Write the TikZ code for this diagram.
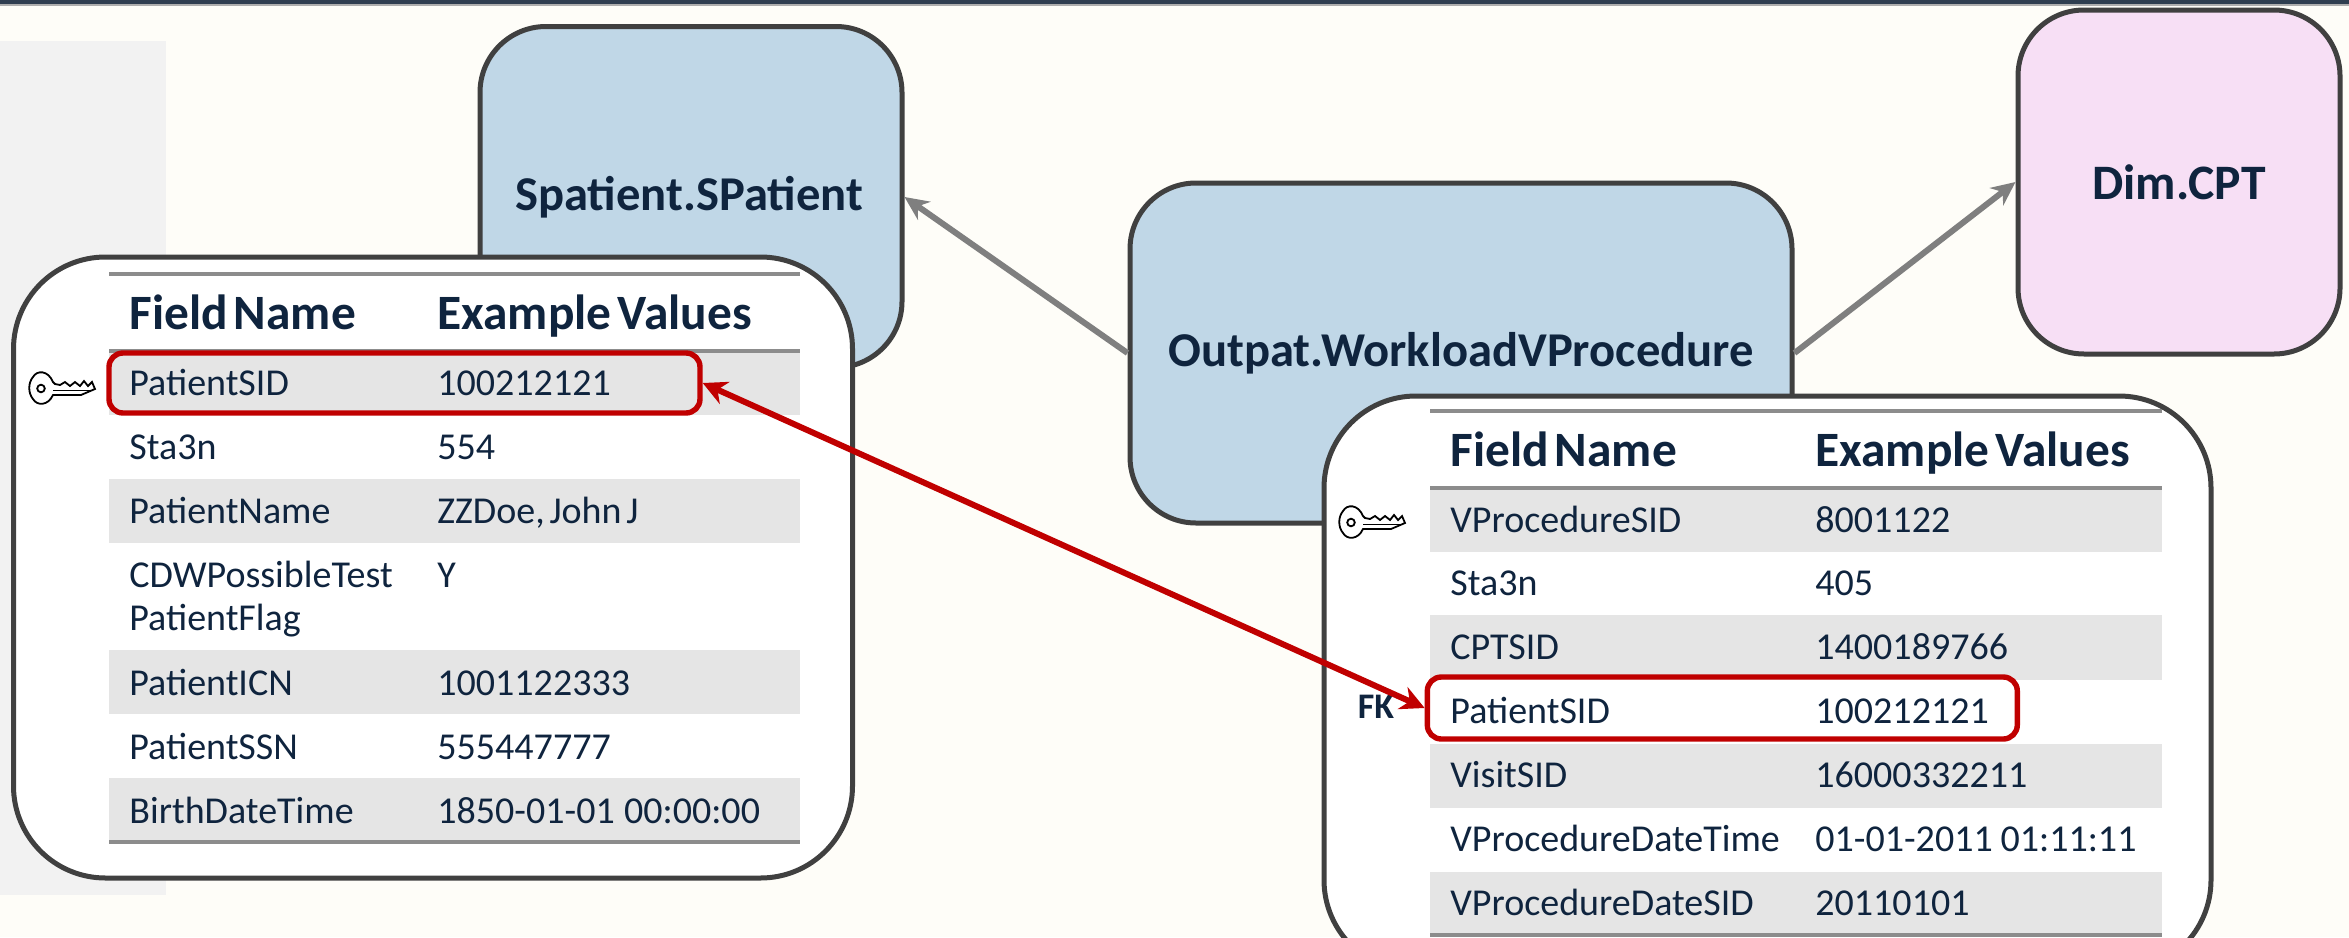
\documentclass[tikz,border=0pt]{standalone}
\usepackage{fontspec}
\setmainfont[WordSpace=0.55]{Carlito}
\usetikzlibrary{arrows.meta}
\definecolor{pagebg}{HTML}{FEFDF8}
\definecolor{topbar}{HTML}{2F3E50}
\definecolor{sidepanel}{HTML}{F2F2F2}
\definecolor{boxblue}{HTML}{C0D7E7}
\definecolor{boxpink}{HTML}{F7DFF5}
\definecolor{boxedge}{HTML}{404040}
\definecolor{ink}{HTML}{0F243E}
\definecolor{rowgrey}{HTML}{E5E5E5}
\definecolor{ruleg}{HTML}{8C8C8C}
\definecolor{linkg}{HTML}{7F7F7F}
\definecolor{linkr}{HTML}{C00000}
\tikzset{
  x=0.5pt,y=-0.5pt,
  entity/.style={draw=boxedge,line width=2.5pt,rounded corners=33pt,inner sep=0pt,text=ink,
    font=\fontsize{24.3}{30}\selectfont\bfseries},
  card/.style={draw=boxedge,line width=2.5pt,fill=white,rounded corners=46pt,inner sep=0pt},
  shade/.style={fill=rowgrey,draw=none,inner sep=0pt,anchor=north west},
  rulebar/.style={draw=ruleg,line width=1.6pt},
  cell/.style={anchor=base west,inner sep=0pt,text=ink,font=\fontsize{19}{24}\selectfont},
  head/.style={anchor=base west,inner sep=0pt,text=ink,font=\fontsize{24.7}{30}\selectfont\bfseries},
  redbox/.style={draw=linkr,line width=2.7pt,rounded corners=7pt,inner sep=0pt},
  graylink/.style={draw=linkg,line width=3pt,-{Stealth[length=12pt,width=11pt]}},
  redlink/.style={draw=linkr,line width=3pt,{Stealth[length=12pt,width=12pt]}-{Stealth[length=12pt,width=12pt]}},
}
\newcommand{\keyglyph}[2]{%
  \begin{scope}[shift={(#1,#2)},line width=0.9pt,draw=black,line join=miter]
    \draw[fill=white] (22,9) .. controls (17,-3) and (6,-3) .. (2,4)
      .. controls (-3,10) and (-3,20) .. (2,26)
      .. controls (6,33) and (17,33) .. (22,22) -- (50,22) -- (64,16) -- (61,9) -- (57,13) -- (53,8) -- (49,13) -- (44,9) -- (39,13) -- (34,9) -- (29,12) -- (24,11) -- cycle;
    \draw (10,15.5) circle (3.8);
    \draw (22,17.5) -- (60,17.5);
  \end{scope}}
\begin{document}
\begin{tikzpicture}
\useasboundingbox (0,0) rectangle (2349,937);
\fill[pagebg] (0,0) rectangle (2349,937);
\fill[topbar] (0,0) rectangle (2349,4);
\fill[ruleg!70] (0,4) rectangle (2349,6);
\fill[sidepanel] (0,41) rectangle (166,895);

% entity boxes
\node[entity,fill=boxblue,minimum width=211pt,minimum height=170.5pt] (sp) at (691,197) {\hspace{-2pt}\raisebox{-3pt}{Spatient.SPatient}};
\node[entity,fill=boxblue,minimum width=331pt,minimum height=170pt] (op) at (1461,353) {\raisebox{-2pt}{Outpat.WorkloadVProcedure}};
\node[entity,fill=boxpink,minimum width=161pt,minimum height=172pt] (dim) at (2179,182) {\fontsize{24.8}{30}\selectfont Dim.CPT};
\draw[graylink] (op.west) -- (sp.east);
\draw[graylink] (op.east) -- (dim.west);

% left card
\node[card,minimum width=419.5pt,minimum height=310.5pt] (cardL) at (433,567.5) {};
\node[shade,minimum width=345.5pt,minimum height=32pt] (la) at (109,351) {};
\node[shade,minimum width=345.5pt,minimum height=32pt] (lc) at (109,479) {};
\node[shade,minimum width=345.5pt,minimum height=32pt] (le) at (109,650) {};
\node[shade,minimum width=345.5pt,minimum height=32pt] (lg) at (109,778) {};
\draw[rulebar] (109,274) -- (800,274);
\draw[rulebar] (109,351) -- (800,351);
\draw[rulebar] (109,842) -- (800,842);
\node[head] (lh1) at (129,329.5) {Field Name};
\node[head] (lh2) at (437,329.5) {Example Values};
\node[cell] (l1a) at (129,395.5) {PatientSID};
\node[cell] (l1b) at (437,395.5) {100212121};
\node[cell] (l2a) at (129,459.5) {Sta3n};
\node[cell] (l2b) at (437,459.5) {554};
\node[cell] (l3a) at (129,523.5) {PatientName};
\node[cell] (l3b) at (437,523.5) {ZZDoe, John J};
\node[cell] (l4a) at (129,587.5) {CDWPossibleTest};
\node[cell] (l4c) at (129,630.5) {PatientFlag};
\node[cell] (l4b) at (437,587.5) {Y};
\node[cell] (l5a) at (129,695.5) {PatientICN};
\node[cell] (l5b) at (437,695.5) {1001122333};
\node[cell] (l6a) at (129,759.5) {PatientSSN};
\node[cell] (l6b) at (437,759.5) {555447777};
\node[cell] (l7a) at (129,823.5) {BirthDateTime};
\node[cell] (l7b) at (437,823.5) {1850-01-01\hspace{.12em} 00:00:00};
\node[redbox,minimum width=295.5pt,minimum height=30pt] (redL) at (404.5,383) {};
\keyglyph{31}{373}

% right card
\node[card,minimum width=443.5pt,minimum height=288pt] (cardR) at (1767.5,684) {};
\node[shade,minimum width=366pt,minimum height=32pt] (ra) at (1430,488) {};
\node[shade,minimum width=366pt,minimum height=32.5pt] (rc) at (1430,615) {};
\node[shade,minimum width=366pt,minimum height=32pt] (re) at (1430,744) {};
\node[shade,minimum width=366pt,minimum height=31pt] (rg) at (1430,872) {};
\draw[rulebar] (1430,411) -- (2162,411);
\draw[rulebar] (1430,488) -- (2162,488);
\draw[rulebar] (1430,935) -- (2162,935);
\node[head] (rh1) at (1450,466) {Field Name};
\node[head] (rh2) at (1815,466) {Example Values};
\node[cell] (r1a) at (1450,532.5) {VProcedureSID};
\node[cell] (r1b) at (1815,532.5) {8001122};
\node[cell] (r2a) at (1450,595.5) {Sta3n};
\node[cell] (r2b) at (1815,595.5) {405};
\node[cell] (r3a) at (1450,659.5) {CPTSID};
\node[cell] (r3b) at (1815,659.5) {1400189766};
\node[cell] (r4a) at (1450,723.5) {PatientSID};
\node[cell] (r4b) at (1815,723.5) {100212121};
\node[cell] (r5a) at (1450,787.5) {VisitSID};
\node[cell] (r5b) at (1815,787.5) {16000332211};
\node[cell] (r6a) at (1450,851.5) {VProcedureDateTime};
\node[cell] (r6b) at (1815,851.5) {01-01-2011\hspace{.08em} 01:11:11};
\node[cell] (r7a) at (1450,915.5) {VProcedureDateSID};
\node[cell] (r7b) at (1815,915.5) {20110101};
\node[redbox,minimum width=295pt,minimum height=31pt,anchor=east] (redR) at (2020,708) {};
\keyglyph{1341}{507}
\node[anchor=base,inner sep=0pt,text=ink,font=\fontsize{18}{22}\selectfont\bfseries] (fk) at (1376,718) {FK};

\draw[redlink] (redL.east) -- (redR.west);
\end{tikzpicture}
\end{document}
